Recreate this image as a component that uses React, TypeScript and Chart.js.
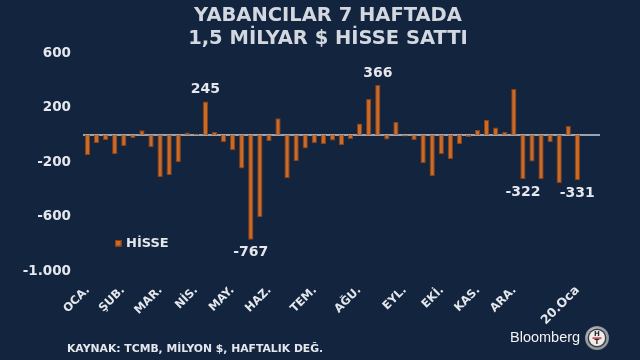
import React, { useEffect, useRef } from 'react';
import { Chart, registerables } from 'chart.js';

Chart.register(...registerables);

// ---------- data ----------
const titleLines = ['YABANCILAR 7 HAFTADA', '1,5 MİLYAR $ HİSSE SATTI'];
const seriesName = 'HİSSE';
const sourceNote = 'KAYNAK: TCMB, MİLYON $, HAFTALIK DEĞ.';
const brandName = 'Bloomberg';

// weekly net foreign flows into equities (million $)
const weeklyFlows = [
  -146, -59, -37, -141, -83, -24, 34, -90, -310, -293,
  -198, 17, 8, 245, 22, -54, -112, -246, -767, -603,
  -44, 122, -317, -193, -100, -61, -66, -41, -76, -29,
  83, 264, 366, -34, 95, -12, -37, -207, -303, -141,
  -176, -66, -15, 37, 112, 54, 22, 337, -322, -195,
  -325, -54, -354, 66, -331,
];
const weekCount = 57;
const weeks = Array.from({ length: weekCount }, (_, i) => `H${i + 1}`);

const monthLabels = ['OCA.', 'ŞUB.', 'MAR.', 'NİS.', 'MAY.', 'HAZ.', 'TEM.', 'AĞU.', 'EYL.', 'EKİ.', 'KAS.', 'ARA.', '20.Oca'];
const monthLabelWeek = [0.28, 4.14, 8.28, 12.2, 16.2, 20.3, 25.3, 30.2, 35.2, 39.3, 43.3, 47.3, 54.3];
const labelledWeeks = [13, 18, 32, 48, 54];
const yTicks = [-1000, -600, -200, 200, 600];

// ---------- style ----------
const BG = '#13243f';
const TEXT = '#e4e7ec';
const BAR = '#cc6a28';
const BAR_EDGE = '#8a4212';
const BOLD = '"DejaVu Sans", Verdana, sans-serif';

const fmt = (n: number) => {
  const s = Math.abs(n).toString().replace(/\B(?=(\d{3})+(?!\d))/g, '.');
  return (n < 0 ? '-' : '') + s;
};

const decorPlugin = {
  id: 'decor',
  beforeDatasetsDraw(chart: any) {
    const { ctx, chartArea, scales } = chart;
    const y0 = scales.y.getPixelForValue(0);
    ctx.save();
    ctx.strokeStyle = '#c9cfd9';
    ctx.lineWidth = 1.5;
    ctx.beginPath();
    ctx.moveTo(chartArea.left, y0);
    ctx.lineTo(chartArea.right, y0);
    ctx.stroke();
    ctx.restore();
  },
  afterDraw(chart: any) {
    const { ctx, chartArea, scales } = chart;
    ctx.save();
    // title
    ctx.fillStyle = '#d3d8e0';
    ctx.font = `bold 19.5px ${BOLD}`;
    ctx.textAlign = 'center';
    ctx.textBaseline = 'alphabetic';
    ctx.fillText(titleLines[0], 328, 21);
    ctx.fillText(titleLines[1], 328, 44);

    // month axis labels (rotated, anchored on the category scale)
    ctx.fillStyle = TEXT;
    monthLabels.forEach((lab, i) => {
      const px = scales.x.getPixelForValue(monthLabelWeek[i]);
      const py = chartArea.bottom + 19;
      ctx.save();
      ctx.translate(px, py);
      ctx.rotate(-Math.PI / 4);
      ctx.font = `bold ${i === monthLabels.length - 1 ? 12.5 : 11.5}px ${BOLD}`;
      ctx.textAlign = 'right';
      ctx.textBaseline = 'alphabetic';
      ctx.fillText(lab, 0, 0);
      ctx.restore();
    });

    // value labels
    const meta = chart.getDatasetMeta(0);
    ctx.fillStyle = TEXT;
    ctx.font = `bold 14px ${BOLD}`;
    ctx.textAlign = 'center';
    labelledWeeks.forEach((i) => {
      const el = meta.data[i];
      const v = weeklyFlows[i];
      if (!el) return;
      if (v >= 0) {
        ctx.textBaseline = 'bottom';
        ctx.fillText(fmt(v), el.x, el.y - 5);
      } else {
        ctx.textBaseline = 'top';
        ctx.fillText(fmt(v), el.x, el.y + 6);
      }
    });

    // legend
    ctx.fillStyle = BAR;
    ctx.fillRect(115, 240, 6.5, 6.5);
    ctx.strokeStyle = BAR_EDGE;
    ctx.lineWidth = 1;
    ctx.strokeRect(115.5, 240.5, 5.5, 5.5);
    ctx.fillStyle = TEXT;
    ctx.font = `bold 13px ${BOLD}`;
    ctx.textAlign = 'left';
    ctx.textBaseline = 'middle';
    ctx.fillText(seriesName, 126, 243.5);

    // source note
    ctx.font = `bold 10.8px ${BOLD}`;
    ctx.fillText(sourceNote, 67, 349);

    // brand
    ctx.fillStyle = '#f2f2f2';
    ctx.font = '14.5px "Liberation Sans", Arial, sans-serif';
    ctx.textBaseline = 'alphabetic';
    ctx.fillText(brandName, 510, 341.5);

    const cx = 597, cy = 338;
    const g = ctx.createRadialGradient(cx - 4, cy - 5, 1, cx, cy, 12);
    g.addColorStop(0, '#ffffff');
    g.addColorStop(1, '#8b8f96');
    ctx.fillStyle = g;
    ctx.beginPath(); ctx.arc(cx, cy, 12, 0, Math.PI * 2); ctx.fill();
    ctx.fillStyle = '#3b3d42';
    ctx.beginPath(); ctx.arc(cx, cy, 9.5, 0, Math.PI * 2); ctx.fill();
    ctx.fillStyle = '#ececec';
    ctx.beginPath(); ctx.arc(cx, cy, 8, 0, Math.PI * 2); ctx.fill();
    ctx.fillStyle = '#2c2c2c';
    ctx.font = `bold 7px ${BOLD}`;
    ctx.textAlign = 'center';
    ctx.textBaseline = 'middle';
    ctx.fillText('H', cx, cy - 3.5);
    ctx.fillText('T', cx, cy + 4);
    ctx.fillStyle = '#d0242b';
    ctx.fillRect(cx - 4.5, cy - 0.6, 9, 1.4);
    ctx.restore();
  },
};

export default function App() {
  const canvasRef = useRef<HTMLCanvasElement | null>(null);

  useEffect(() => {
    document.body.style.margin = '0';
    const canvas = canvasRef.current;
    if (!canvas) return;
    const chart = new Chart(canvas, {
      type: 'bar',
      data: {
        labels: weeks,
        datasets: [
          {
            label: seriesName,
            data: weeklyFlows,
            backgroundColor: BAR,
            borderColor: BAR_EDGE,
            borderWidth: 1,
            barPercentage: 0.58,
            categoryPercentage: 1,
          },
        ],
      },
      options: {
        responsive: true,
        maintainAspectRatio: false,
        animation: false,
        layout: { padding: { left: 0, right: 40, top: 53, bottom: 88.5 } },
        plugins: {
          legend: { display: false },
          title: { display: false },
          tooltip: { enabled: false },
        },
        scales: {
          x: { display: false, offset: true },
          y: {
            min: -1000,
            max: 600,
            grid: { display: false, drawTicks: false },
            border: { display: false },
            afterBuildTicks: (scale: any) => {
              scale.ticks = yTicks.map((v) => ({ value: v }));
            },
            afterFit: (scale: any) => {
              scale.width = 83;
            },
            ticks: {
              padding: 12,
              color: TEXT,
              font: { family: BOLD, weight: 'bold', size: 13.5 },
              callback: (v: any) => fmt(Number(v)),
            },
          },
        },
      } as any,
      plugins: [decorPlugin],
    });
    return () => chart.destroy();
  }, []);

  return (
    <div style={{ position: 'fixed', left: 0, top: 0, width: 640, height: 360, background: BG }}>
      <canvas ref={canvasRef} />
    </div>
  );
}
